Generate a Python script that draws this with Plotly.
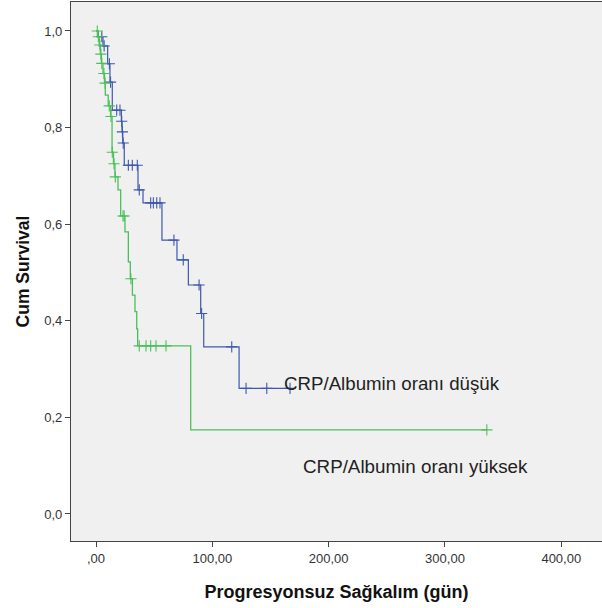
import numpy as np
import plotly.graph_objects as go

# ---- data ----
blue_name = "CRP/Albumin oranı düşük"
blue_event_t = [2, 6, 10, 12, 14, 21.8, 22.4, 23.0, 24.3, 36.1, 40.4, 56.7, 69.6, 79.4, 90.0, 92.6, 123]
blue_event_s = [0.988, 0.969, 0.932, 0.894, 0.836, 0.813, 0.791, 0.768, 0.722, 0.671, 0.644, 0.567,
                0.526, 0.474, 0.415, 0.346, 0.260]
blue_censor_t = [5, 7, 11.5, 12.5, 17.8, 20.6, 22.1, 22.7, 23.4, 27.8, 31.2, 35.5, 37.2, 47, 49.3,
                 52.2, 55, 67, 75, 88.6, 90.8, 116.7, 129, 146.8, 166.8]

green_name = "CRP/Albumin oranı yüksek"
green_event_t = [1.5, 2.8, 3.8, 4.6, 6.0, 7.3, 8.0, 10.5, 12.5, 13.8, 15.0, 16.3, 18.9, 21.2, 24.9,
                 27.8, 29.5, 31.3, 33.5, 35.0, 35.8, 81.4]
green_event_s = [0.988, 0.971, 0.952, 0.933, 0.912, 0.892, 0.867, 0.845, 0.823, 0.749, 0.725, 0.698,
                 0.671, 0.617, 0.584, 0.522, 0.487, 0.453, 0.419, 0.383, 0.348, 0.174]
green_censor_t = [1.1, 2.0, 3.3, 4.2, 5.0, 6.8, 7.8, 11.4, 12.9, 14.0, 15.5, 16.6, 23.2, 24.2, 30.0,
                  37.2, 43, 47, 51.6, 60.2, 336]

x_tickvals = [0, 100, 200, 300, 400]
x_ticktext = [",00", "100,00", "200,00", "300,00", "400,00"]
y_tickvals = [0, 0.2, 0.4, 0.6, 0.8, 1.0]
y_ticktext = ["0,0", "0,2", "0,4", "0,6", "0,8", "1,0"]

BLUE = "#3E58AC"
GREEN = "#4CBF5A"


def km_line(ev_t, ev_s, cen_t):
    last = max(max(ev_t), max(cen_t))
    xs = [0] + list(ev_t) + [last]
    ys = [1.0] + list(ev_s) + [ev_s[-1]]
    return xs, ys


def surv_at(ev_t, ev_s, times):
    ev_t = np.asarray(ev_t)
    s = np.concatenate([[1.0], np.asarray(ev_s)])
    idx = np.searchsorted(ev_t, np.asarray(times), side="right")
    return s[idx]


fig = go.Figure()
for name, et, es, ct, col, w in [
    (blue_name, blue_event_t, blue_event_s, blue_censor_t, BLUE, 1.2),
    (green_name, green_event_t, green_event_s, green_censor_t, GREEN, 1.3),
]:
    xs, ys = km_line(et, es, ct)
    fig.add_trace(go.Scatter(x=xs, y=ys, mode="lines", line=dict(color=col, width=w, shape="hv"),
                             showlegend=False, hoverinfo="skip", cliponaxis=False))
    fig.add_trace(go.Scatter(x=ct, y=surv_at(et, es, ct), mode="markers",
                             marker=dict(symbol="cross-thin", size=8, color=col,
                                         line=dict(color=col, width=1.1)),
                             showlegend=False, hoverinfo="skip", cliponaxis=False))

fig.add_annotation(x=160, y=0.271, text=blue_name, showarrow=False, xanchor="left", yanchor="middle",
                   font=dict(family="Liberation Sans, Arial", size=18.7, color="#222222"))
fig.add_annotation(x=176.3, y=0.099, text=green_name, showarrow=False, xanchor="left", yanchor="middle",
                   font=dict(family="Liberation Sans, Arial", size=18.8, color="#222222"))

axis_common = dict(showline=True, linecolor="#444444", linewidth=1.2, mirror=True, ticks="outside",
                   ticklen=5, tickcolor="#444444", showgrid=False, zeroline=False, automargin=False,
                   tickfont=dict(family="Liberation Sans, Arial", size=13, color="#333333"))

fig.update_layout(
    width=602, height=608,
    margin=dict(l=71, r=0, t=2, b=67),
    paper_bgcolor="white", plot_bgcolor="#F0F0F0",
    xaxis=dict(range=[-21.5, 435], tickvals=x_tickvals, ticktext=x_ticktext,
               title=dict(text="<b>Progresyonsuz Sağkalım (gün)</b>", standoff=20,
                          font=dict(family="Liberation Sans, Arial", size=18, color="#111111")),
               **axis_common),
    yaxis=dict(range=[-0.056, 1.06], tickvals=y_tickvals, ticktext=y_ticktext,
               title=dict(text="<b>Cum Survival</b>", standoff=10,
                          font=dict(family="Liberation Sans, Arial", size=17.5, color="#111111")),
               **axis_common),
)

fig.write_html("out.html", config={"displayModeBar": False},
               post_script="document.body.style.margin='0';")
